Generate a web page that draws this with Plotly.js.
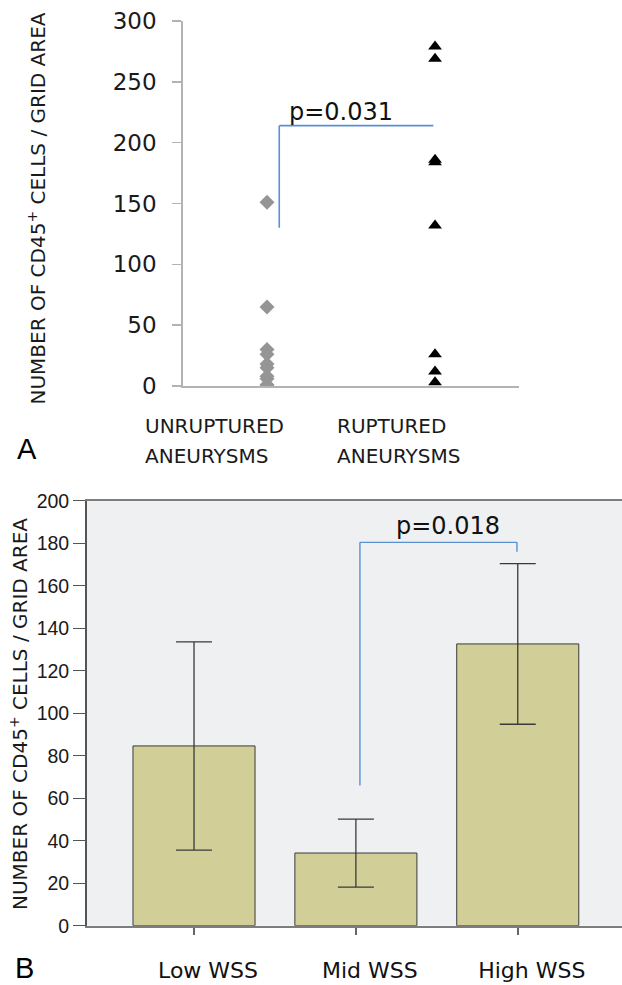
<!DOCTYPE html>
<html>
<head>
<meta charset="utf-8">
<script src="https://cdn.plot.ly/plotly-3.0.1.min.js"></script>
<style>
html,body{margin:0;padding:0;background:#fff;}
#chart{width:622px;height:985px;}
</style>
</head>
<body>
<div id="chart"></div>
<script>
// ---- Panel A data ----
var groupsA = ['UNRUPTURED ANEURYSMS', 'RUPTURED ANEURYSMS'];
var labelLinesA = [['UNRUPTURED', 'ANEURYSMS'], ['RUPTURED', 'ANEURYSMS']];
var unrupturedValues = [151, 65, 30, 26, 18, 15, 8, 6, 1, 0];
var rupturedValues = [279, 269, 186, 184, 132, 26, 12, 3];
var pValueA = 'p=0.031';
var yTicksA = [0, 50, 100, 150, 200, 250, 300];

// ---- Panel B data ----
var groupsB = ['Low WSS', 'Mid WSS', 'High WSS'];
var meansB = [84.6, 34.2, 132.6];
var errorsB = [49, 16, 37.8];
var pValueB = 'p=0.018';
var yTicksB = [0, 20, 40, 60, 80, 100, 120, 140, 160, 180, 200];

var yTitle = 'NUMBER OF CD45<sup>+</sup> CELLS / GRID AREA';

var W = 622, H = 985;
function px(x) { return x / W; }
function py(y) { return (H - y) / H; }

var traces = [
  {
    type: 'scatter', mode: 'markers', xaxis: 'x', yaxis: 'y',
    x: unrupturedValues.map(function () { return groupsA[0]; }),
    y: unrupturedValues,
    marker: { symbol: 'diamond', size: 11.5, color: '#959595', line: { width: 0 } },
    hoverinfo: 'y', showlegend: false
  },
  {
    type: 'scatter', mode: 'markers', xaxis: 'x', yaxis: 'y',
    x: rupturedValues.map(function () { return groupsA[1]; }),
    y: rupturedValues,
    marker: { symbol: 'triangle-up', size: 12, color: '#000000', line: { width: 0 } },
    hoverinfo: 'y', showlegend: false
  },
  {
    type: 'bar', xaxis: 'x2', yaxis: 'y2',
    x: groupsB, y: meansB, width: 0.754,
    marker: { color: '#d1ce98', line: { color: '#3a3a3a', width: 1 } },
    error_y: { type: 'data', array: errorsB, visible: true, color: '#3a3a3a', thickness: 1.3, width: 18 },
    showlegend: false
  }
];

var annotations = [];
// panel A category labels (left-aligned, two lines)
var labelLeftA = [143, 335];
labelLinesA.forEach(function (lines, i) {
  lines.forEach(function (t, j) {
    annotations.push({
      xref: 'paper', yref: 'paper', x: px(labelLeftA[i]), y: py(426 + 30 * j),
      xanchor: 'left', yanchor: 'middle', text: t, showarrow: false,
      font: { family: 'DejaVu Sans', size: 20, color: '#1a1a1a' }
    });
  });
});
// axis titles
annotations.push({
  xref: 'paper', yref: 'paper', x: px(37), y: py(208.5), textangle: -90,
  xanchor: 'center', yanchor: 'middle', text: yTitle, showarrow: false,
  font: { family: 'DejaVu Sans', size: 20, color: '#1a1a1a' }
});
annotations.push({
  xref: 'paper', yref: 'paper', x: px(19.5), y: py(714.5), textangle: -90,
  xanchor: 'center', yanchor: 'middle', text: yTitle, showarrow: false,
  font: { family: 'DejaVu Sans', size: 20, color: '#1a1a1a' }
});
// panel letters
annotations.push({
  xref: 'paper', yref: 'paper', x: px(26.5), y: py(448.5), xanchor: 'center', yanchor: 'middle',
  text: 'A', showarrow: false, font: { family: 'Liberation Sans', size: 29, color: '#000' }
});
annotations.push({
  xref: 'paper', yref: 'paper', x: px(24), y: py(968), xanchor: 'center', yanchor: 'middle',
  text: 'B', showarrow: false, font: { family: 'Liberation Sans', size: 29, color: '#000' }
});
// p-values
annotations.push({
  xref: 'paper', yref: 'paper', x: px(340.5), y: py(112), xanchor: 'center', yanchor: 'middle',
  text: pValueA, showarrow: false, font: { family: 'DejaVu Sans', size: 24, color: '#111' }
});
annotations.push({
  xref: 'paper', yref: 'paper', x: px(448), y: py(526), xanchor: 'center', yanchor: 'middle',
  text: pValueB, showarrow: false, font: { family: 'DejaVu Sans', size: 24, color: '#111' }
});

// significance brackets (annotation lines)
var bracketColor = '#5a8fd2';
var shapes = [
  { type: 'line', xref: 'x', yref: 'y', x0: 0.073, x1: 0.073, y0: 130, y1: 214, line: { color: bracketColor, width: 1.6 } },
  { type: 'line', xref: 'x', yref: 'y', x0: 0.073, x1: 0.99, y0: 214, y1: 214, line: { color: bracketColor, width: 1.6 } },
  { type: 'line', xref: 'x2', yref: 'y2', x0: 1.025, x1: 1.025, y0: 66, y1: 180.4, line: { color: bracketColor, width: 1.4 } },
  { type: 'line', xref: 'x2', yref: 'y2', x0: 1.025, x1: 1.995, y0: 180.4, y1: 180.4, line: { color: bracketColor, width: 1.4 } },
  { type: 'line', xref: 'x2', yref: 'y2', x0: 1.995, x1: 1.995, y0: 180.4, y1: 176, line: { color: bracketColor, width: 1.4 } }
];

var layout = {
  width: W, height: H,
  margin: { l: 0, r: 0, t: 0, b: 0, pad: 0 },
  paper_bgcolor: '#ffffff',
  showlegend: false,
  xaxis: {
    domain: [px(183), px(518.7)], anchor: 'y', type: 'category',
    categoryorder: 'array', categoryarray: groupsA,
    range: [-0.5, 1.498], showgrid: false, zeroline: false,
    showline: true, linecolor: '#b3b3b3', linewidth: 1.8,
    ticks: '', showticklabels: false, automargin: false, fixedrange: true
  },
  yaxis: {
    domain: [py(386), py(21)], anchor: 'x', range: [0, 300],
    tickvals: yTicksA, showgrid: false, zeroline: false,
    showline: true, linecolor: '#b3b3b3', linewidth: 1.8,
    ticks: 'outside', ticklen: 9, tickwidth: 1.5, tickcolor: '#b3b3b3',
    ticklabelstandoff: 11,
    tickfont: { family: 'DejaVu Sans', size: 23, color: '#1a1a1a' },
    automargin: false, fixedrange: true
  },
  xaxis2: {
    domain: [px(86.7), 1], anchor: 'y2', type: 'category',
    categoryorder: 'array', categoryarray: groupsB,
    range: [-0.663, 2.644], showgrid: false, zeroline: false,
    showline: true, mirror: true, linecolor: '#7d7d7d', linewidth: 1.8,
    ticks: 'outside', ticklen: 7, tickwidth: 1.5, tickcolor: '#666',
    ticklabelshift: 14, ticklabelstandoff: 17,
    tickfont: { family: 'DejaVu Sans', size: 22, color: '#111' },
    automargin: false, fixedrange: true
  },
  yaxis2: {
    domain: [py(925.7), py(500.7)], anchor: 'x2', range: [0, 200],
    tickvals: yTicksB, showgrid: false, zeroline: false,
    showline: true, linecolor: '#555', linewidth: 1.6,
    ticks: 'outside', ticklen: 12, tickwidth: 1.3, tickcolor: '#555',
    ticklabelstandoff: 0,
    tickfont: { family: 'Liberation Sans', size: 19.5, color: '#1a1a1a' },
    automargin: false, fixedrange: true
  },
  plot_bgcolor: 'rgba(0,0,0,0)',
  shapes: [
    { type: 'rect', xref: 'x2 domain', yref: 'y2 domain', x0: 0, x1: 1, y0: 0, y1: 1,
      fillcolor: '#eff0f2', line: { width: 0 }, layer: 'below' }
  ].concat(shapes),
  annotations: annotations
};

Plotly.newPlot('chart', traces, layout, { displayModeBar: false, staticPlot: true });
</script>
</body>
</html>
